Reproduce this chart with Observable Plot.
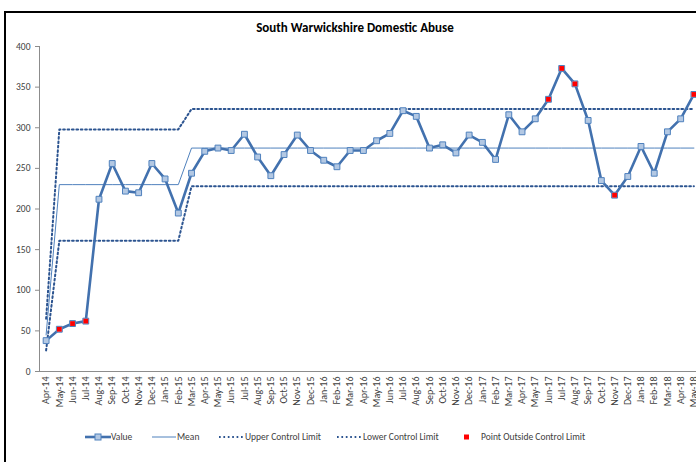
<!DOCTYPE html>
<html>
<head>
<meta charset="utf-8">
<script src="https://cdn.jsdelivr.net/npm/d3@7"></script>
<script src="https://cdn.jsdelivr.net/npm/@observablehq/plot@0.6"></script>
<style>
  html, body { margin: 0; padding: 0; background: #fff; }
  body { width: 696px; height: 462px; overflow: hidden; position: relative; font-family: Carlito, Lato, "Open Sans", sans-serif; }
  #frame { position: absolute; left: 4px; top: 11px; width: 900px; height: 900px; border: 2px solid #000; box-sizing: border-box; }
  #chart { position: absolute; left: 0; top: 0; width: 700px; }
  #title { position: absolute; left: 0; width: 710px; top: 20px; text-align: center; font-weight: bold; font-size: 13px; color: #000; }
  .lg { position: absolute; top: 431px; height: 12px; font-size: 9.5px; color: #404040; line-height: 12px; white-space: nowrap; }
  .lg svg { position: absolute; top: 0; }
</style>
</head>
<body>
<div id="frame"></div>
<div id="chart"></div>
<div id="title">South Warwickshire Domestic Abuse</div>
<div id="legend"></div>
<script>
const months = ["Apr-14","May-14","Jun-14","Jul-14","Aug-14","Sep-14","Oct-14","Nov-14","Dec-14","Jan-15","Feb-15","Mar-15","Apr-15","May-15","Jun-15","Jul-15","Aug-15","Sep-15","Oct-15","Nov-15","Dec-15","Jan-16","Feb-16","Mar-16","Apr-16","May-16","Jun-16","Jul-16","Aug-16","Sep-16","Oct-16","Nov-16","Dec-16","Jan-17","Feb-17","Mar-17","Apr-17","May-17","Jun-17","Jul-17","Aug-17","Sep-17","Oct-17","Nov-17","Dec-17","Jan-18","Feb-18","Mar-18","Apr-18","May-18"];
const values = [38,52,59,62,212,256,222,220,256,237,195,244,271,275,272,292,264,241,267,291,272,260,252,272,272,284,293,321,314,275,279,269,291,282,261,316,295,311,335,373,354,309,235,217,240,277,244,295,311,341];
const mean = [45,230,230,230,230,230,230,230,230,230,230,275,275,275,275,275,275,275,275,275,275,275,275,275,275,275,275,275,275,275,275,275,275,275,275,275,275,275,275,275,275,275,275,275,275,275,275,275,275,275];
const ucl = [65,298,298,298,298,298,298,298,298,298,298,323,323,323,323,323,323,323,323,323,323,323,323,323,323,323,323,323,323,323,323,323,323,323,323,323,323,323,323,323,323,323,323,323,323,323,323,323,323,323];
const lcl = [26,161,161,161,161,161,161,161,161,161,161,228,228,228,228,228,228,228,228,228,228,228,228,228,228,228,228,228,228,228,228,228,228,228,228,228,228,228,228,228,228,228,228,228,228,228,228,228,228,228];
const yTicks = [0,50,100,150,200,250,300,350,400];
const legendLabels = ["Value","Mean","Upper Control Limit","Lower Control Limit","Point Outside Control Limit"];

const rows = months.map((m, i) => ({month: m, value: values[i], mean: mean[i], ucl: ucl[i], lcl: lcl[i]}));
const outside = rows.filter(d => d.value > d.ucl || d.value < d.lcl);

const lineBlue = "#4271AE";
const meanBlue = "#4F81BD";
const limitBlue = "#2C5490";
const W = 700, step = (W - 39) / months.length;
const dots = "1.7,2.7";

const chart = Plot.plot({
  width: W, height: 462,
  marginLeft: 39, marginRight: 0, marginTop: 46, marginBottom: 91,
  x: {type: "point", domain: months, padding: 0.5, round: false, axis: null},
  y: {domain: [0, 400], axis: null},
  style: {fontFamily: "Carlito, Lato, 'Open Sans', sans-serif", fontSize: "9.5px", color: "#404040", background: "transparent", overflow: "visible", maxWidth: "none"},
  marks: [
    Plot.ruleY([0], {stroke: "#8c8c8c", strokeWidth: 1}),
    Plot.ruleX([months[0]], {dx: -step / 2, y1: 0, y2: 400, stroke: "#8c8c8c", strokeWidth: 1}),
    Plot.axisY({ticks: yTicks, tickSize: 4, tickPadding: 5, stroke: "#8c8c8c", tickFormat: d => String(d), fontSize: 9.5}),
    Plot.axisX({tickRotate: -90, tickSize: 0, tickPadding: 5, fontSize: 10, label: null}),
    Plot.line(rows, {x: "month", y: "mean", stroke: meanBlue, strokeWidth: 1}),
    Plot.line(rows, {x: "month", y: "ucl", stroke: limitBlue, strokeWidth: 2, strokeDasharray: dots}),
    Plot.line(rows, {x: "month", y: "lcl", stroke: limitBlue, strokeWidth: 2, strokeDasharray: dots}),
    Plot.line(rows, {x: "month", y: "value", stroke: lineBlue, strokeWidth: 2.6}),
    Plot.dot(rows, {x: "month", y: "value", symbol: "square", r: 3.3, fill: "#B3C8E3", stroke: "#4F81BD", strokeWidth: 1}),
    Plot.dot(outside, {x: "month", y: "value", symbol: "square", r: 2.7, fill: "#FF0000", stroke: "none"})
  ]
});
document.getElementById("chart").appendChild(chart);

// Legend
const lg = document.getElementById("legend");
const swatches = [
  {x: 85, w: 26, tx: 111, draw: () => `<line x1="0" y1="6" x2="26" y2="6" stroke="${lineBlue}" stroke-width="2.6"/><rect x="10" y="3" width="6" height="6" fill="#B3C8E3" stroke="#4F81BD"/>`},
  {x: 152, w: 24, tx: 177, draw: () => `<line x1="0" y1="6" x2="24" y2="6" stroke="${meanBlue}" stroke-width="1"/>`},
  {x: 219, w: 24, tx: 245, draw: () => `<line x1="0" y1="6" x2="24" y2="6" stroke="${limitBlue}" stroke-width="2" stroke-dasharray="${dots}"/>`},
  {x: 337, w: 24, tx: 363, draw: () => `<line x1="0" y1="6" x2="24" y2="6" stroke="${limitBlue}" stroke-width="2" stroke-dasharray="${dots}"/>`},
  {x: 464, w: 6, tx: 481, draw: () => `<rect x="0" y="3.5" width="5" height="5" fill="#FF0000"/>`}
];
legendLabels.forEach((label, i) => {
  const s = swatches[i];
  const d = document.createElement("div");
  d.className = "lg";
  d.style.left = s.x + "px";
  d.innerHTML = `<svg width="${s.w}" height="12">${s.draw()}</svg><span style="position:absolute;left:${s.tx - s.x}px;top:0">${label}</span>`;
  lg.appendChild(d);
});
</script>
</body>
</html>
